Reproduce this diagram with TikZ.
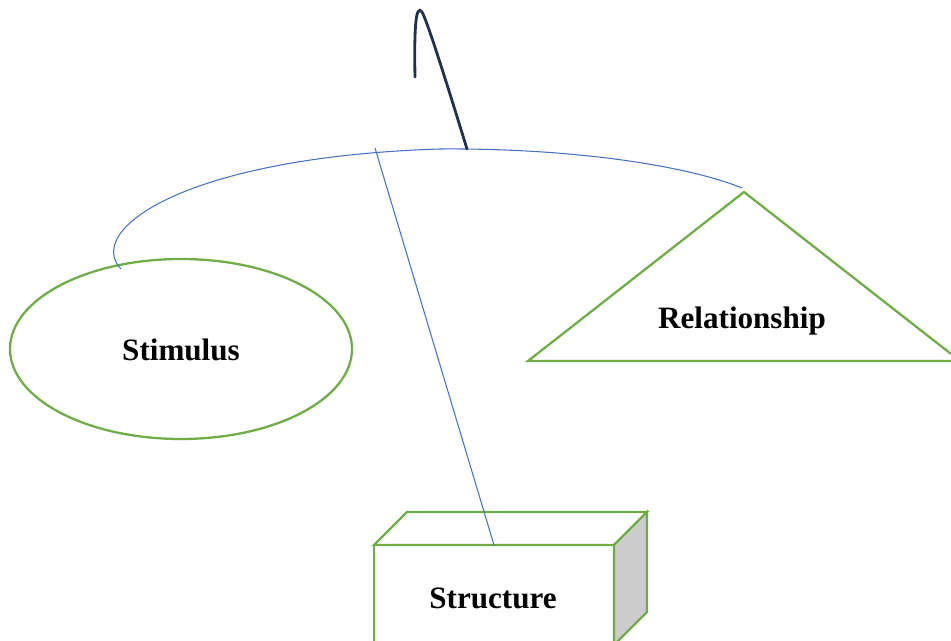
\documentclass[tikz,border=0pt]{standalone}
\usepackage{fontspec}
\setmainfont{Liberation Serif}
\usetikzlibrary{arrows.meta}
\definecolor{shapegreen}{HTML}{70AD47}
\definecolor{linkblue}{HTML}{4472C4}
\definecolor{hooknavy}{HTML}{1F3050}

\begin{document}
\begin{tikzpicture}[x=0.02cm, y=-0.02cm,
	every node/.style={font=\fontsize{17.7}{20}\selectfont\bfseries},
	shp/.style={draw=shapegreen, line width=1.3pt},
	link/.style={draw=linkblue, line width=0.6pt},
	hook/.style={draw=hooknavy, line width=1.6pt, line cap=round}]
	\clip (0,0) rectangle (951,641);
	% shapes
	\draw[shp] (181,349) ellipse [x radius=171, y radius=90];
	\draw[shp] (744,192) -- (528,361) -- (960,361) -- cycle;
	\draw[shp, fill=white] (374,545) rectangle (614,700);
	\draw[shp, fill=white] (374,545) -- (407,512) -- (647,512) -- (614,545) -- cycle;
	\draw[shp, fill=black!20] (614,545) -- (647,512) -- (647,612) -- (614,645) -- cycle;
	\node (stim) at (181,350) {Stimulus};
	\node (rel) at (742,321) {Relationship};
	\node (struc) at (493,598) {Structure};
	% connectors
	\coordinate (arcL) at (121,269);
	\coordinate (arcR) at (742,188);
	\coordinate (arcT) at (375,148);
	\coordinate (boxT) at (494,545);
	\coordinate (hookS) at (415,77);
	\coordinate (hookE) at (467,149);
	\draw[link] (arcL) .. controls (84,230) and (185,157) .. (440,149) .. controls (560,148) and (680,163) .. (arcR);
	\draw[link] (arcT) -- (boxT);
	\draw[hook] (hookS) .. controls (414,25) and (416,4) .. (422,12) .. controls (428,22) and (455,110) .. (hookE);
\end{tikzpicture}
\end{document}
